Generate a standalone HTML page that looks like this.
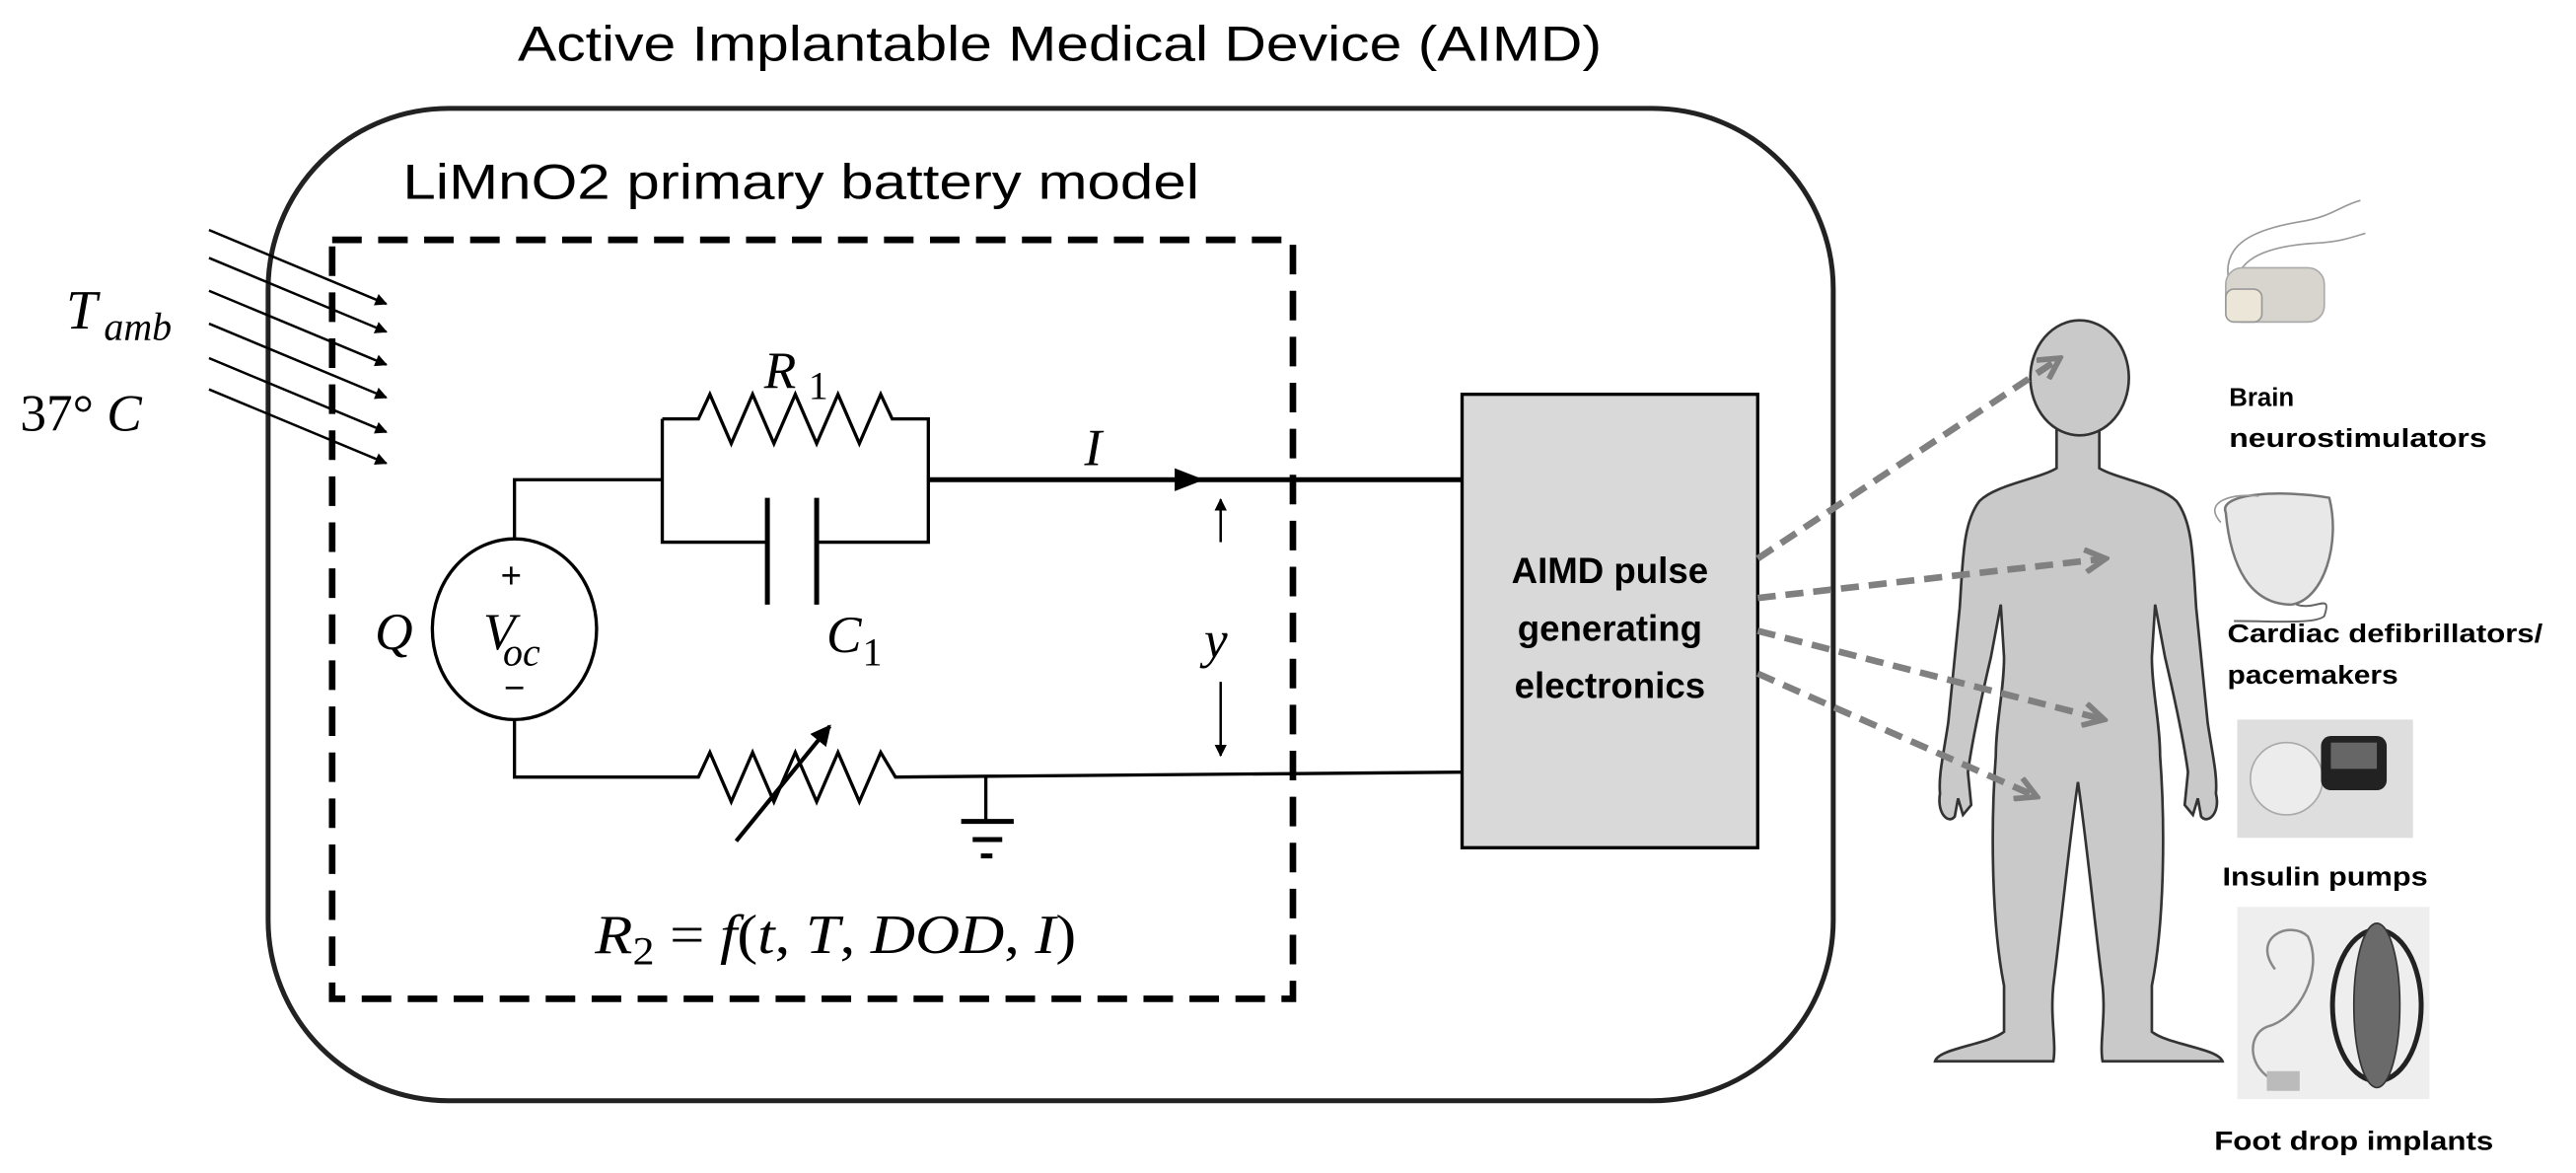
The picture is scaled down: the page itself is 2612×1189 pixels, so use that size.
<!DOCTYPE html>
<html><head><meta charset="utf-8"><style>
html,body{margin:0;padding:0;background:#fff;}
svg{display:block;}
.s{font-family:"Liberation Sans",sans-serif;}
.m{font-family:"Liberation Serif",serif;font-style:italic;}
.b{font-family:"Liberation Sans",sans-serif;font-weight:bold;}
</style></head><body>
<svg width="2612" height="1189" viewBox="0 0 1568 714" xmlns="http://www.w3.org/2000/svg">
<defs>
<marker id="ah" viewBox="0 0 10 10" refX="9" refY="5" markerWidth="5" markerHeight="5" orient="auto"><path d="M0,0 L10,5 L0,10 Z" fill="#000"/></marker>
<marker id="gh" viewBox="0 0 14 14" refX="12" refY="7" markerWidth="16" markerHeight="16" orient="auto" markerUnits="userSpaceOnUse"><path d="M1,1 L12,7 L1,13" fill="none" stroke="#808080" stroke-width="3"/></marker>
</defs>
<rect width="1568" height="714" fill="#fff"/>
<text x="315" y="37" class="s" font-size="30" textLength="660" lengthAdjust="spacingAndGlyphs">Active Implantable Medical Device (AIMD)</text>
<rect x="163" y="66" width="953" height="604" rx="110" ry="110" fill="none" stroke="#222" stroke-width="3"/>
<text x="245" y="121" class="s" font-size="30" textLength="485" lengthAdjust="spacingAndGlyphs">LiMnO2 primary battery model</text>
<rect x="202" y="146" width="585" height="462" fill="none" stroke="#000" stroke-width="4" stroke-dasharray="18,10"/>

<g stroke="#000" stroke-width="1.5" marker-end="url(#ah)">
<line x1="127" y1="140" x2="235" y2="185"/>
<line x1="127" y1="157" x2="235" y2="202"/>
<line x1="127" y1="177" x2="235" y2="222"/>
<line x1="127" y1="197" x2="235" y2="242"/>
<line x1="127" y1="218" x2="235" y2="263"/>
<line x1="127" y1="237" x2="235" y2="282"/>
</g>
<text x="40" y="200" class="m" font-size="34">T</text>
<text x="63" y="207" class="m" font-size="24">amb</text>
<text x="12" y="262" font-family="Liberation Serif,serif" font-size="32">37° <tspan font-style="italic">C</tspan></text>

<g stroke="#000" stroke-width="2" fill="none">
<ellipse cx="313" cy="383" rx="50" ry="55"/>
<polyline points="313,328 313,292 403,292"/>
<polyline points="403,255 403,330 467,330"/>
<polyline points="497,330 565,330 565,255 548,255"/>
<polyline points="403,255 425,255 432,240 445,270 458,240 471,270 484,240 497,270 510,240 523,270 536,240 543,255 548,255"/>
<line x1="467" y1="303" x2="467" y2="368" stroke-width="3"/>
<line x1="497" y1="303" x2="497" y2="368" stroke-width="3"/>
<line x1="565" y1="292" x2="890" y2="292" stroke-width="3"/>
<polyline points="313,438 313,473 425,473 432,458 445,488 458,458 471,488 484,458 497,488 510,458 523,488 536,458 545,473 890,470"/>
<line x1="600" y1="472" x2="600" y2="500"/>
<line x1="585" y1="500" x2="617" y2="500" stroke-width="3"/>
<line x1="592" y1="511" x2="610" y2="511" stroke-width="3"/>
<line x1="597" y1="521" x2="604" y2="521" stroke-width="3"/>
<line x1="448" y1="512" x2="505" y2="442" marker-end="url(#ah)" stroke-width="2.5"/>
<line x1="743" y1="330" x2="743" y2="304" marker-end="url(#ah)" stroke-width="1.5"/>
<line x1="743" y1="415" x2="743" y2="460" marker-end="url(#ah)" stroke-width="1.5"/>
</g>
<path d="M715,285 L733,292 L715,299 Z" fill="#000"/>
<text x="311" y="358" class="s" font-size="22" text-anchor="middle">+</text>
<text x="313" y="426" class="s" font-size="22" text-anchor="middle">−</text>
<text x="294" y="395" class="m" font-size="32">V</text>
<text x="306" y="405" class="m" font-size="24">oc</text>
<text x="228" y="395" class="m" font-size="32">Q</text>
<text x="465" y="236" class="m" font-size="32">R</text>
<text x="492" y="243" font-family="Liberation Serif,serif" font-size="24">1</text>
<text x="503" y="397" class="m" font-size="32">C</text>
<text x="525" y="405" font-family="Liberation Serif,serif" font-size="24">1</text>
<text x="660" y="283" class="m" font-size="32">I</text>
<text x="733" y="400" class="m" font-size="32">y</text>
<text x="362" y="580" class="m" font-size="34" textLength="293" lengthAdjust="spacingAndGlyphs">R<tspan font-size="24" dy="7" font-style="normal">2</tspan><tspan dy="-7" font-style="normal"> = </tspan>f<tspan font-style="normal">(</tspan>t<tspan font-style="normal">, </tspan>T<tspan font-style="normal">, </tspan>DOD<tspan font-style="normal">, </tspan>I<tspan font-style="normal">)</tspan></text>

<rect x="890" y="240" width="180" height="276" fill="#d9d9d9" stroke="#000" stroke-width="2"/>
<text x="980" y="355" class="b" font-size="22" text-anchor="middle">AIMD pulse</text>
<text x="980" y="390" class="b" font-size="22" text-anchor="middle">generating</text>
<text x="980" y="425" class="b" font-size="22" text-anchor="middle">electronics</text>

<g fill="#c9c9c9" stroke="#333" stroke-width="1.6">
<path d="M1252,258 L1252,285 C1240,292 1215,295 1205,305 C1195,318 1195,340 1193,370 L1186,440 C1183,460 1180,472 1181,483 C1179,495 1186,502 1190,497 L1192,486 L1195,496 L1200,490 L1198,470 C1200,455 1205,430 1212,400 L1218,368 L1220,400 C1220,420 1215,440 1215,460 C1212,500 1212,560 1220,600 L1220,628 C1210,636 1180,638 1178,646 L1250,646 C1252,635 1248,620 1250,600 C1255,560 1260,510 1265,476 C1270,510 1275,560 1280,600 C1282,620 1278,635 1280,646 L1353,646 C1350,638 1320,636 1310,628 L1310,600 C1318,560 1318,500 1315,460 C1315,440 1310,420 1310,400 L1312,368 L1318,400 C1325,430 1330,455 1332,470 L1330,490 L1335,496 L1338,486 L1340,497 C1344,502 1352,495 1349,483 C1350,472 1347,460 1344,440 L1337,370 C1335,340 1335,318 1325,305 C1315,295 1290,292 1278,285 L1278,258 Z"/>
<ellipse cx="1266" cy="230" rx="30" ry="35"/>
</g>

<g stroke="#808080" stroke-width="4" stroke-dasharray="11,6" fill="none" marker-end="url(#gh)">
<line x1="1070" y1="340" x2="1254" y2="218"/>
<line x1="1070" y1="364" x2="1282" y2="340"/>
<line x1="1070" y1="384" x2="1281" y2="438"/>
<line x1="1070" y1="410" x2="1240" y2="485"/>
</g>

<g fill="none" stroke="#999" stroke-width="1">
<path d="M1358,175 C1350,150 1370,140 1400,135 C1420,132 1425,125 1437,122"/>
<path d="M1362,176 C1360,160 1375,150 1410,148 C1425,147 1430,145 1440,142"/>
</g>
<rect x="1355" y="163" width="60" height="33" rx="10" fill="#d8d5cf" stroke="#aaa"/>
<rect x="1355" y="176" width="22" height="20" rx="5" fill="#ece6d8" stroke="#999"/>
<path d="M1355,312 C1350,300 1390,298 1418,303 C1425,330 1415,365 1395,368 C1370,368 1358,345 1355,312 Z" fill="#e8e8e8" stroke="#777" stroke-width="1.5"/>
<path d="M1352,318 C1340,305 1360,300 1375,302" fill="none" stroke="#999"/>
<path d="M1398,368 C1410,372 1420,360 1415,375 C1410,380 1385,378 1360,378" fill="none" stroke="#666" stroke-width="1.2"/>
<rect x="1362" y="438" width="107" height="72" fill="#dedede"/>
<ellipse cx="1392" cy="474" rx="22" ry="22" fill="#ececec" stroke="#aaa"/>
<rect x="1413" y="448" width="40" height="33" rx="6" fill="#222"/>
<rect x="1419" y="452" width="28" height="16" fill="#666"/>
<rect x="1362" y="552" width="117" height="117" fill="#eeeeee"/>
<ellipse cx="1447" cy="612" rx="27" ry="46" fill="none" stroke="#222" stroke-width="3"/>
<ellipse cx="1447" cy="612" rx="14" ry="50" fill="#6a6a6a" stroke="#333"/>
<path d="M1385,590 C1370,570 1395,560 1405,570 C1415,590 1400,620 1380,625 C1368,630 1368,650 1385,658" fill="none" stroke="#888" stroke-width="1.5"/>
<rect x="1380" y="652" width="20" height="12" fill="#bbb"/>

<text x="1357" y="247" class="b" font-size="15.5">Brain</text>
<text x="1357" y="272" class="b" font-size="15.5" textLength="157" lengthAdjust="spacingAndGlyphs">neurostimulators</text>
<text x="1356" y="391" class="b" font-size="15.5" textLength="192" lengthAdjust="spacingAndGlyphs">Cardiac defibrillators/</text>
<text x="1356" y="416" class="b" font-size="15.5" textLength="104" lengthAdjust="spacingAndGlyphs">pacemakers</text>
<text x="1353" y="539" class="b" font-size="15.5" textLength="125" lengthAdjust="spacingAndGlyphs">Insulin pumps</text>
<text x="1348" y="700" class="b" font-size="16" textLength="170" lengthAdjust="spacingAndGlyphs">Foot drop implants</text>
</svg>
</body></html>
